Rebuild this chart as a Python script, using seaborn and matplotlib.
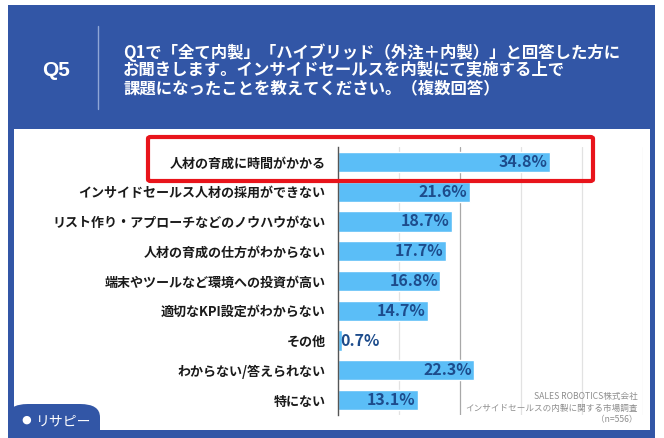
import matplotlib
matplotlib.use("Agg")
import matplotlib.pyplot as plt
import seaborn as sns
import pandas as pd
from matplotlib.patches import Rectangle, FancyBboxPatch
from matplotlib.lines import Line2D
from matplotlib.transforms import offset_copy

# ---- data ----
categories = [
    "人材の育成に時間がかかる",
    "インサイドセールス人材の採用ができない",
    "リスト作り・アプローチなどのノウハウがない",
    "人材の育成の仕方がわからない",
    "端末やツールなど環境への投資が高い",
    "適切なKPI設定がわからない",
    "その他",
    "わからない/答えられない",
    "特にない",
]
values = [34.8, 21.6, 18.7, 17.7, 16.8, 14.7, 0.7, 22.3, 13.1]
value_labels = [f"{v:.1f}%" for v in values]
question_no = "Q5"
title_lines = [
    "Q1で「全て内製」「ハイブリッド（外注＋内製）」と回答した方に",
    "お聞きします。インサイドセールスを内製にて実施する上で",
    "課題になったことを教えてください。（複数回答）",
]
source_lines = ["SALES ROBOTICS株式会社", "インサイドセールスの内製に関する市場調査", "（n=556）"]
logo_text = "リサピー"

BLUE = "#3256A6"
BAR = "#5BBEF7"
VAL = "#1D4C8C"
RED = "#E8141B"

sns.set_theme(style="white")
plt.rcParams["font.family"] = ["Noto Sans CJK JP", "DejaVu Sans"]

W, H = 664, 438
fig = plt.figure(figsize=(W / 100, H / 100), dpi=100)
fig.patch.set_facecolor("white")


def fx(x):
    return x / W


def fy(y):
    return 1 - y / H


# blue card
fig.add_artist(Rectangle((fx(8), fy(438)), fx(655) - fx(8), fy(5) - fy(438),
                         transform=fig.transFigure, facecolor=BLUE, edgecolor="none", zorder=-3))
# white panel
fig.add_artist(Rectangle((fx(14), fy(430)), fx(650) - fx(14), fy(129) - fy(430),
                         transform=fig.transFigure, facecolor="white", edgecolor="none", zorder=-2))

# header
fig.text(fx(56), fy(70), question_no, color="white", fontsize=15, fontweight="bold",
         ha="center", va="center", family=["Liberation Sans", "DejaVu Sans"])
fig.add_artist(Line2D([fx(98), fx(98)], [fy(26), fy(109)], transform=fig.transFigure,
                      color="#8FA6D6", lw=1))
for i, line in enumerate(title_lines):
    fig.text(fx(123), fy(53 + i * 17.5), line, color="white", fontsize=11.8, fontweight="bold",
             ha="left", va="center")

# chart axes
ax = fig.add_axes([fx(338), fy(415), fx(642.5) - fx(338), fy(147) - fy(415)], zorder=1)
ax.patch.set_alpha(0)
df = pd.DataFrame({"category": categories, "value": values})
sns.barplot(data=df, x="value", y="category", orient="h", color=BAR, saturation=1,
            width=0.68, ax=ax, zorder=3)
ax.set_xlim(0, 50)
for g in [10, 20, 30, 40, 50]:
    ax.axvline(g, color="#A8A8A8" if g == 20 else "#E2E2E2", lw=0.9, zorder=1)
for s in ["top", "right", "bottom"]:
    ax.spines[s].set_visible(False)
ax.spines["left"].set_color("#555555")
ax.spines["left"].set_linewidth(1)
ax.spines["left"].set_zorder(4)
ax.set_xticks([])
ax.set_xlabel("")
ax.set_ylabel("")
ax.tick_params(axis="y", length=0, pad=9)
for t in ax.get_yticklabels():
    t.set_fontsize(9.4)
    t.set_fontweight("bold")
    t.set_color("#1A1A1A")

tr_lab = offset_copy(ax.transData, fig=fig, x=-2, y=0, units="dots")
for i, (v, lab) in enumerate(zip(values, value_labels)):
    ax.text(v, i, lab, transform=tr_lab, ha="right" if v > 5 else "left", va="center",
            color=VAL, fontsize=11.5, fontweight="bold", zorder=5)

# red highlight box
fig.add_artist(FancyBboxPatch((fx(148), fy(181)), fx(593) - fx(148), fy(137) - fy(181),
                              boxstyle="round,pad=0,rounding_size=0.004",
                              transform=fig.transFigure, facecolor="none", edgecolor=RED,
                              lw=3, zorder=6))

# source
for i, line in enumerate(source_lines):
    fig.text(fx(638), fy(396 + i * 12), line, color="#8E8E8E", fontsize=6.2,
             ha="right", va="center")

# logo tab
fig.add_artist(FancyBboxPatch((fx(8), fy(445)), fx(100) - fx(8), fy(404) - fy(445),
                              boxstyle="round,pad=0,rounding_size=0.03",
                              transform=fig.transFigure, facecolor=BLUE, edgecolor="none",
                              zorder=2))
fig.text(fx(26), fy(420), "●", color="white", fontsize=8, ha="center", va="center",
         family=["DejaVu Sans"], zorder=7)
fig.text(fx(36), fy(421), logo_text, color="white", fontsize=10, ha="left", va="center",
         zorder=7)

fig.savefig("out.png", dpi=100, facecolor=fig.get_facecolor())
